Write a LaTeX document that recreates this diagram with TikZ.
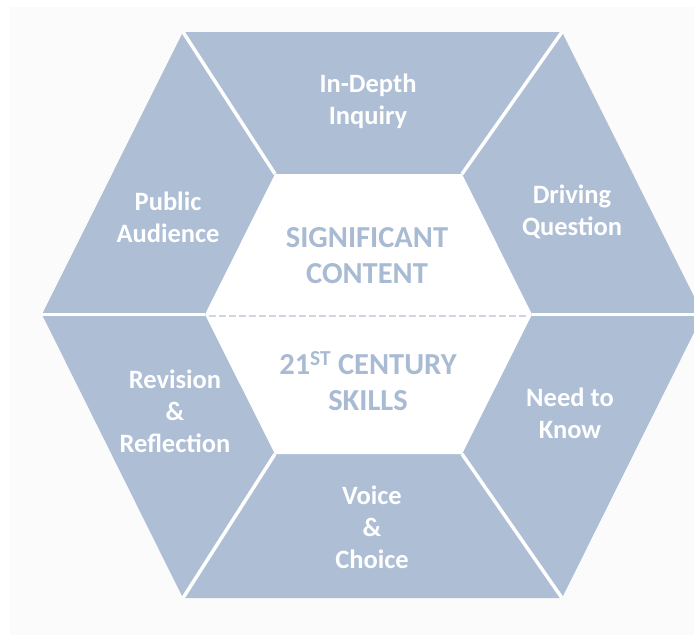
\documentclass[tikz,border=0pt]{standalone}
\usepackage{fontspec}
\setmainfont{Carlito}
\definecolor{panel}{HTML}{ADBED5}
\definecolor{innertext}{HTML}{A9BBD3}
\definecolor{dashc}{HTML}{D0D6E0}
\definecolor{bgc}{HTML}{FBFBFB}
\begin{document}
\begin{tikzpicture}[x=1pt,y=-1pt,
  gap/.style={draw=white,line width=3.5pt},
  lab/.style={text=white,font=\bfseries\fontsize{26.5}{32}\selectfont,align=center,inner sep=0pt},
  core/.style={text=innertext,font=\bfseries\fontsize{30.5}{36}\selectfont,align=center,inner sep=0pt}]
\useasboundingbox (0,0) rectangle (694,635);
\fill[white] (0,0) rectangle (694,635);
\fill[bgc] (10,7) rectangle (694,635);
% outer hexagon
\coordinate (oTL) at (183,32);
\coordinate (oTR) at (562,32);
\coordinate (oR)  at (703,314.5);
\coordinate (oBR) at (562,598);
\coordinate (oBL) at (183,598);
\coordinate (oL)  at (42,314.5);
% inner hexagon
\coordinate (iTL) at (275,174);
\coordinate (iTR) at (462,174);
\coordinate (iR)  at (532,314.5);
\coordinate (iBR) at (462,454);
\coordinate (iBL) at (275,454);
\coordinate (iL)  at (205,314.5);
\begin{scope}
\clip (0,0) rectangle (694,635);
\fill[panel] (oTL) -- (oTR) -- (oR) -- (oBR) -- (oBL) -- (oL) -- cycle;
\fill[white] (iTL) -- (iTR) -- (iR) -- (iBR) -- (iBL) -- (iL) -- cycle;
\draw[gap] (oTL) -- (iTL);
\draw[gap] (oTR) -- (iTR);
\draw[gap] (oBL) -- (iBL);
\draw[gap] (oBR) -- (iBR);
\draw[gap] (oL) -- (iL);
\draw[gap] (iR) -- (oR);
\end{scope}
\draw[dashc,line width=2.5pt,dash pattern=on 6.5pt off 3.5pt] ([xshift=4pt,yshift=-1.5pt]iL) -- ([xshift=-4pt,yshift=-1.5pt]iR);
% labels
\node[lab] (inquiry) at (368,101) {In-Depth\\Inquiry};
\node[lab] (public) at (168,217) {Public\\Audience};
\node[lab] (driving) at (572,212) {Driving\\Question};
\node[lab] (revision) at (175,411) {Revision\\\&\\Reflection};
\node[lab] (need) at (570,413) {Need to\\Know};
\node[lab] (voice) at (372,527) {Voice\\\&\\Choice};
\node[core] (content) at (367,256) {SIGNIFICANT\\CONTENT};
\node[core] (skills) at (368,381) {21\textsuperscript{ST} CENTURY\\SKILLS};
\end{tikzpicture}
\end{document}
